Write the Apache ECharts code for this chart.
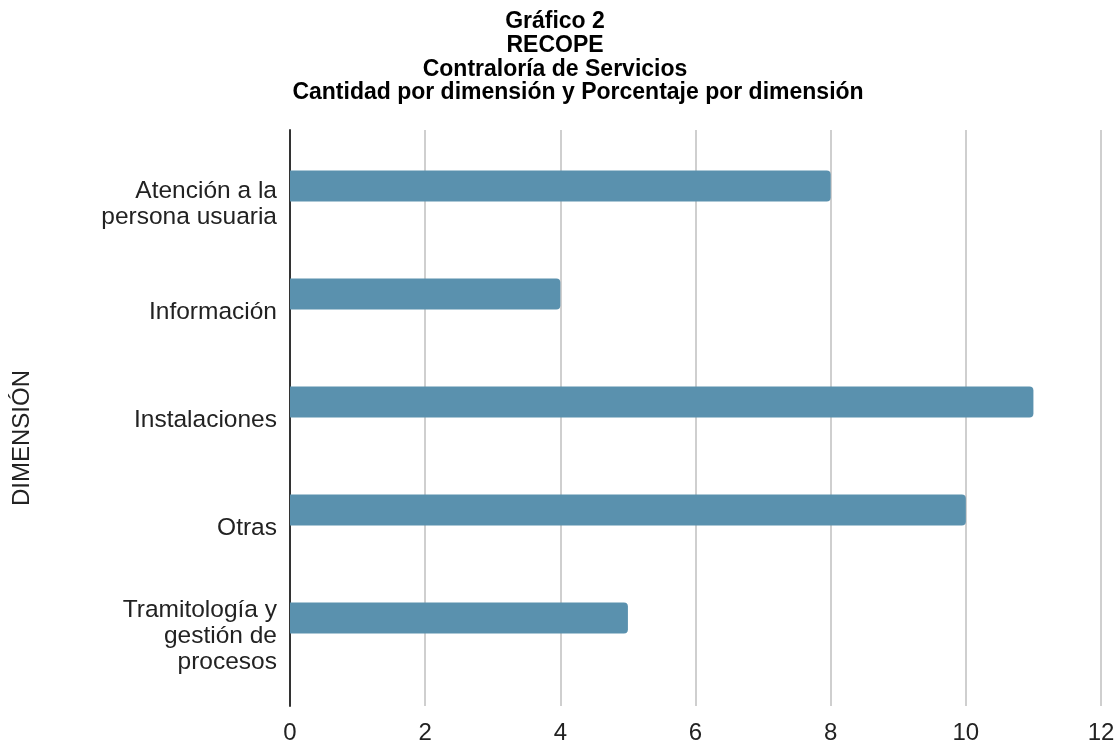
<!DOCTYPE html>
<html>
<head>
<meta charset="utf-8">
<script src="https://cdn.jsdelivr.net/npm/echarts@6/dist/echarts.min.js"></script>
<style>
  html, body { margin: 0; padding: 0; background: #fff; }
  #chart { width: 1119px; height: 745px; }
</style>
</head>
<body>
<div id="chart"></div>
<script>
// Quejas registradas por dimensión
const titleLines = ['Gráfico 2', 'RECOPE', 'Contraloría de Servicios', 'Cantidad por dimensión y Porcentaje por dimensión'];
const categories = ['Atención a la\npersona usuaria', 'Información', 'Instalaciones', 'Otras', 'Tramitología y\ngestión de\nprocesos'];
const cantidad = [8, 4, 11, 10, 5];
const xTicks = { min: 0, max: 12, interval: 2 };
const axisName = 'DIMENSIÓN';

const chart = echarts.init(document.getElementById('chart'));
const LEFT = 290, RIGHT = 18;
const FONT = 'Liberation Sans';

// title block: the first lines share one centre, the subtitle line sits slightly right
const titleCenters = [555, 555, 555, 578];
const titleGraphics = titleLines.map((line, i) => ({
  type: 'text',
  x: titleCenters[i],
  y: 22 + i * 23.6,
  style: {
    text: line, fontFamily: FONT, fontWeight: 'bold', fontSize: 23,
    fill: '#000', align: 'center', verticalAlign: 'middle'
  }
}));

chart.setOption({
  animation: false,
  graphic: titleGraphics.concat([{
    type: 'text',
    left: 10,
    top: 370,
    rotation: Math.PI / 2,
    style: { text: axisName, fontFamily: FONT, fontSize: 24, fill: '#222' }
  }]),
  grid: [
    // frame: gridlines, axis line and tick labels
    { left: LEFT, right: RIGHT, top: 130, bottom: 36 },
    // bars
    { left: LEFT, right: RIGHT, top: 132, height: 540 }
  ],
  xAxis: [
    {
      gridIndex: 0, type: 'value', min: xTicks.min, max: xTicks.max, interval: xTicks.interval,
      axisLine: { show: false }, axisTick: { show: false },
      splitLine: { lineStyle: { color: '#cfcfcf', width: 2 } },
      axisLabel: { fontFamily: FONT, fontSize: 24, color: '#222', margin: 15 }
    },
    {
      gridIndex: 1, type: 'value', min: xTicks.min, max: xTicks.max, interval: xTicks.interval,
      show: false
    }
  ],
  yAxis: [
    {
      gridIndex: 0, type: 'category', data: [''],
      axisLine: { show: true, lineStyle: { color: '#333', width: 2 } },
      axisTick: { show: false }, axisLabel: { show: false }, splitLine: { show: false }
    },
    {
      gridIndex: 1, type: 'category', data: categories, inverse: true,
      axisLine: { show: false }, axisTick: { show: false },
      axisLabel: {
        align: 'right', margin: 13,
        // a spacer line above each label sits the text a little below its bar
        formatter: v => '{gap|}\n' + v.split('\n').map(l => '{t|' + l + '}').join('\n'),
        rich: {
          gap: { height: 37, fontSize: 1 },
          t: { fontFamily: FONT, fontSize: 24.5, lineHeight: 26, color: '#222', align: 'right' }
        }
      }
    }
  ],
  series: [{
    type: 'bar',
    name: 'Cantidad',
    xAxisIndex: 1, yAxisIndex: 1,
    data: cantidad,
    barWidth: 31,
    itemStyle: { color: '#5a91ae', borderRadius: [0, 4, 4, 0] }
  }]
});
</script>
</body>
</html>
